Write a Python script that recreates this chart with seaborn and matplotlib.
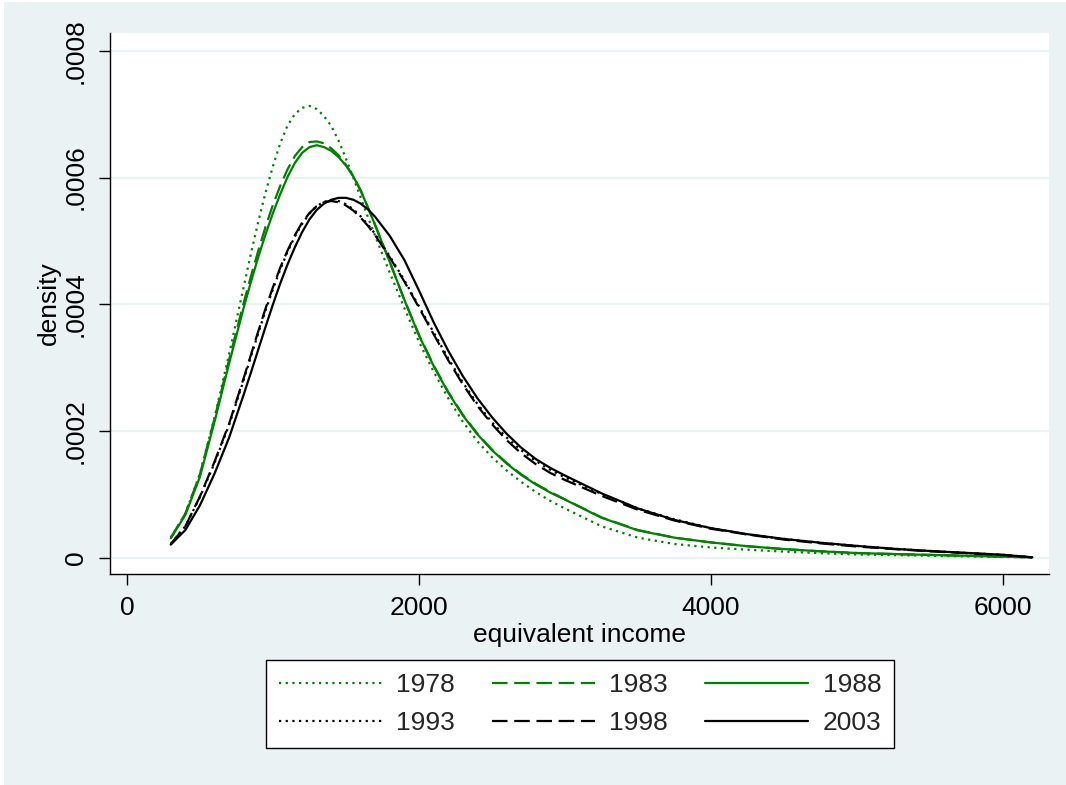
import numpy as np
import pandas as pd
import matplotlib
matplotlib.use("Agg")
import matplotlib.pyplot as plt
import seaborn as sns
from matplotlib.patches import Rectangle

# Kernel density estimates of equivalent income, by survey year
income = [300, 400, 500, 600, 700, 800, 850, 900, 950, 1000, 1050, 1100, 1150,
          1200, 1250, 1300, 1350, 1400, 1450, 1500, 1550, 1600, 1650, 1700,
          1800, 1900, 2000, 2100, 2200, 2300, 2400, 2500, 2600, 2700, 2800,
          2900, 3000, 3250, 3500, 3750, 4000, 4250, 4500, 4750, 5000, 5250,
          5500, 5750, 6000, 6200]

years = ["1978", "1983", "1988", "1993", "1998", "2003"]

# densities in units of 1e-4
dens_1978 = [0.32, 0.70, 1.33, 2.22, 3.22, 4.28, 4.81, 5.31, 5.77, 6.18, 6.54, 6.82, 7.00,
             7.10, 7.13, 7.08, 6.97, 6.81, 6.58, 6.30, 6.00, 5.69, 5.38, 5.08,
             4.50, 3.94, 3.41, 2.94, 2.52, 2.15, 1.84, 1.59, 1.38, 1.20, 1.04,
             0.90, 0.78, 0.50, 0.32, 0.22, 0.165, 0.13, 0.10, 0.075, 0.055, 0.045,
             0.035, 0.025, 0.015, 0.01]
dens_1983 = [0.32, 0.70, 1.32, 2.20, 3.13, 4.03, 4.45, 4.85, 5.23, 5.57, 5.87, 6.13, 6.34,
             6.48, 6.56, 6.57, 6.54, 6.46, 6.35, 6.20, 6.02, 5.80, 5.53, 5.25,
             4.67, 4.07, 3.52, 3.04, 2.62, 2.26, 1.96, 1.71, 1.50, 1.32, 1.17,
             1.04, 0.925, 0.64, 0.44, 0.32, 0.245, 0.185, 0.14, 0.105, 0.078, 0.062,
             0.048, 0.034, 0.02, 0.01]
dens_1988 = [0.31, 0.68, 1.28, 2.15, 3.07, 3.95, 4.36, 4.75, 5.11, 5.44, 5.74, 6.01, 6.23,
             6.39, 6.48, 6.51, 6.48, 6.42, 6.32, 6.19, 6.02, 5.80, 5.53, 5.25,
             4.67, 4.07, 3.51, 3.03, 2.61, 2.25, 1.95, 1.70, 1.49, 1.31, 1.16,
             1.03, 0.92, 0.635, 0.435, 0.32, 0.245, 0.185, 0.14, 0.105, 0.078, 0.062,
             0.048, 0.034, 0.02, 0.01]
dens_1993 = [0.22, 0.50, 0.96, 1.50, 2.10, 2.81, 3.18, 3.55, 3.91, 4.24, 4.55, 4.83, 5.07,
             5.27, 5.43, 5.55, 5.62, 5.64, 5.63, 5.58, 5.50, 5.39, 5.26, 5.11,
             4.76, 4.38, 3.97, 3.56, 3.15, 2.77, 2.43, 2.14, 1.90, 1.70, 1.53,
             1.39, 1.27, 1.01, 0.78, 0.61, 0.47, 0.37, 0.30, 0.24, 0.19, 0.145,
             0.11, 0.08, 0.05, 0.01]
dens_1998 = [0.22, 0.50, 0.97, 1.52, 2.12, 2.84, 3.21, 3.58, 3.94, 4.27, 4.58, 4.85, 5.09,
             5.29, 5.44, 5.55, 5.61, 5.63, 5.61, 5.56, 5.48, 5.37, 5.24, 5.09,
             4.74, 4.36, 3.95, 3.53, 3.12, 2.74, 2.40, 2.11, 1.86, 1.65, 1.48,
             1.34, 1.23, 0.98, 0.76, 0.59, 0.46, 0.37, 0.29, 0.23, 0.18, 0.14,
             0.105, 0.075, 0.045, 0.01]
dens_2003 = [0.21, 0.44, 0.83, 1.33, 1.90, 2.58, 2.93, 3.29, 3.65, 4.00, 4.33, 4.63, 4.90,
             5.14, 5.34, 5.49, 5.59, 5.65, 5.68, 5.68, 5.65, 5.59, 5.50, 5.38,
             5.08, 4.70, 4.22, 3.72, 3.27, 2.87, 2.52, 2.22, 1.96, 1.74, 1.56,
             1.42, 1.30, 1.02, 0.78, 0.60, 0.47, 0.375, 0.30, 0.24, 0.19, 0.145,
             0.11, 0.08, 0.05, 0.01]

x_ticks = [0, 2000, 4000, 6000]
y_ticks = [0, 0.0002, 0.0004, 0.0006, 0.0008]
y_tick_labels = ["0", ".0002", ".0004", ".0006", ".0008"]

BG = "#EAF2F3"
GREEN = "#008000"

sns.set_theme(style="white")
plt.rcParams["font.family"] = ["Liberation Sans", "DejaVu Sans"]

series = [dens_1978, dens_1983, dens_1988, dens_1993, dens_1998, dens_2003]
df = pd.DataFrame({
    "income": np.tile(income, len(years)),
    "density": np.concatenate([np.asarray(s) * 1e-4 for s in series]),
    "year": np.repeat(years, len(income)),
})

W, H = 1066, 785
fig = plt.figure(figsize=(W / 100, H / 100), dpi=100, facecolor="white")
fig.patches.append(Rectangle((4 / W, 0), 1 - 4 / W, 1 - 2 / H,
                             transform=fig.transFigure, facecolor=BG,
                             edgecolor="none", zorder=-10))

ax = fig.add_axes([110 / W, 1 - 574 / H, (1049 - 110) / W, (574 - 33) / H])
ax.set_facecolor("white")

palette = {"1978": GREEN, "1983": GREEN, "1988": GREEN,
           "1993": "black", "1998": "black", "2003": "black"}
dashes = {"1978": (1, 2), "1983": (7, 3), "1988": "",
          "1993": (1, 2), "1998": (7, 3), "2003": ""}

sns.lineplot(data=df, x="income", y="density", hue="year", style="year",
             hue_order=years, style_order=years,
             palette=palette, dashes=dashes, linewidth=1.6,
             estimator=None, ax=ax)

ax.set_xlim(-116, 6315)
ax.set_ylim(-2.53e-5, 0.000828)
ax.set_xticks(x_ticks)
ax.set_xticklabels([str(t) for t in x_ticks])
ax.set_yticks(y_ticks)
ax.set_yticklabels(y_tick_labels, rotation=90, va="center")

ax.set_axisbelow(True)
ax.yaxis.grid(True, color=BG, linewidth=1.6)
ax.xaxis.grid(False)
for side in ("top", "right"):
    ax.spines[side].set_visible(False)
for side in ("left", "bottom"):
    ax.spines[side].set_color("black")
    ax.spines[side].set_linewidth(1.0)

ax.tick_params(axis="both", direction="out", length=8, width=1, color="black",
               labelsize=19, labelcolor="black", pad=8)
ax.tick_params(axis="x", bottom=True)
ax.tick_params(axis="y", left=True)

ax.set_xlabel("equivalent income", fontsize=19, color="black", labelpad=2)
ax.set_ylabel("density", fontsize=19, color="black", labelpad=2)

handles, labels = ax.get_legend_handles_labels()
ax.get_legend().remove()
lookup = dict(zip(labels, handles))
order = ["1978", "1993", "1983", "1998", "1988", "2003"]
ordered = [lookup[k] for k in order]
for h in ordered:
    h.set_linewidth(1.6)

leg = fig.legend(ordered, order, ncol=3, loc="upper center",
                 bbox_to_anchor=(580 / W, 1 - 660 / H), borderaxespad=0,
                 frameon=True, fancybox=False, edgecolor="black",
                 facecolor="white", framealpha=1, fontsize=19,
                 handlelength=3.9, handletextpad=0.55, columnspacing=1.4,
                 borderpad=0.5, labelspacing=0.53)
leg.get_frame().set_linewidth(1.0)

fig.savefig("out.png", dpi=100, facecolor=fig.get_facecolor())
